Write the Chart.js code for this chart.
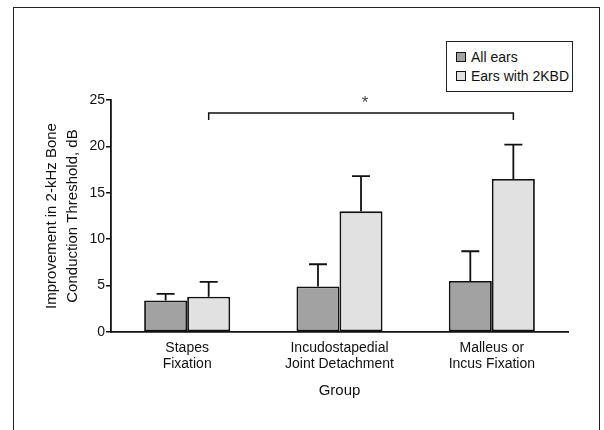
<!DOCTYPE html>
<html>
<head>
<meta charset="utf-8">
<script src="https://cdn.jsdelivr.net/npm/chart.js@4.4.0/dist/chart.umd.min.js"></script>
<style>
  body { margin: 0; background: #fff; }
  #wrap { position: relative; width: 604px; height: 430px; overflow: hidden; }
  #frame { position: absolute; left: 13px; top: 7px; width: 585px; height: 440px; border: 1.5px solid #222; }
  canvas { position: absolute; left: 0; top: 0; }
  #legend { position: absolute; left: 446px; top: 41px; width: 125px; height: 49px; border: 1.5px solid #222;
    font-family: 'Liberation Sans', Arial, sans-serif; font-size: 14px; color: #111; background: #fff; }
  .item { position: absolute; left: 9px; height: 18px; line-height: 18px; white-space: nowrap; }
  .sw { display: inline-block; width: 8px; height: 8px; border: 1.5px solid #111; margin-right: 5px; vertical-align: 0px; }
</style>
</head>
<body>
<div id="wrap">
  <div id="frame"></div>
  <canvas id="grafico" width="604" height="430"></canvas>
  <div id="legend"></div>
</div>
<script>
// -------- DADOS --------
const grupos = [["Stapes", "Fixation"], ["Incudostapedial", "Joint Detachment"], ["Malleus or", "Incus Fixation"]];
const series = ["All ears", "Ears with 2KBD"];
const todosOuvidos = [3.4, 4.9, 5.5];
const todosErro = [4.1, 7.3, 8.7];
const ouvidos2KBD = [3.8, 13.0, 16.5];
const ouvidos2KBDErro = [5.4, 16.8, 20.2];
const yTicks = [0, 5, 10, 15, 20, 25];
const sigPar = [0, 2];      // categorias ligadas pelo colchete (série 2KBD)
const sigNivel = 23.6;
const sigTexto = "*";

const cores = ["#a2a2a2", "#e1e1e1"];
const FONTE = "'Liberation Sans', Arial, sans-serif";

// -------- PLUGINS --------
const barrasErro = {
  id: "barrasErro",
  afterDatasetsDraw(chart) {
    const ctx = chart.ctx;
    const y = chart.scales.y;
    const erros = [todosErro, ouvidos2KBDErro];
    ctx.save();
    ctx.strokeStyle = "#111";
    ctx.lineWidth = 1.8;
    chart.data.datasets.forEach((ds, i) => {
      chart.getDatasetMeta(i).data.forEach((bar, j) => {
        const yt = y.getPixelForValue(erros[i][j]);
        ctx.beginPath();
        ctx.moveTo(bar.x, bar.y);
        ctx.lineTo(bar.x, yt);
        ctx.moveTo(bar.x - 9, yt);
        ctx.lineTo(bar.x + 9, yt);
        ctx.stroke();
      });
    });
    ctx.restore();
  }
};

const colchete = {
  id: "colchete",
  afterDatasetsDraw(chart) {
    const ctx = chart.ctx;
    const meta = chart.getDatasetMeta(1);
    const x1 = meta.data[sigPar[0]].x;
    const x2 = meta.data[sigPar[1]].x;
    const yb = chart.scales.y.getPixelForValue(sigNivel);
    ctx.save();
    ctx.strokeStyle = "#111";
    ctx.lineWidth = 1.5;
    ctx.beginPath();
    ctx.moveTo(x1, yb + 7);
    ctx.lineTo(x1, yb);
    ctx.lineTo(x2, yb);
    ctx.lineTo(x2, yb + 7);
    ctx.stroke();
    ctx.fillStyle = "#444";
    ctx.font = "17px " + FONTE;
    ctx.textAlign = "center";
    ctx.textBaseline = "middle";
    ctx.fillText(sigTexto, (x1 + x2) / 2 + 4, yb - 10);
    ctx.restore();
  }
};

// -------- GRAFICO --------
const ctx = document.getElementById("grafico").getContext("2d");
const chart = new Chart(ctx, {
  type: "bar",
  data: {
    labels: grupos,
    datasets: [
      { label: series[0], data: todosOuvidos, backgroundColor: cores[0], borderColor: "#111", borderWidth: 1.8, borderSkipped: false },
      { label: series[1], data: ouvidos2KBD, backgroundColor: cores[1], borderColor: "#111", borderWidth: 1.8, borderSkipped: false }
    ]
  },
  options: {
    responsive: false,
    animation: false,
    layout: { padding: { left: 41, right: 36, top: 100, bottom: 0 } },
    datasets: { bar: { categoryPercentage: 0.565, barPercentage: 1.0 } },
    plugins: { legend: { display: false }, tooltip: { enabled: false } },
    scales: {
      x: {
        grid: { display: false },
        border: { color: "#111", width: 1.8 },
        ticks: { color: "#111", font: { family: FONTE, size: 14, lineHeight: 1.15 }, padding: 0, maxRotation: 0, autoSkip: false },
        title: { display: true, text: "Group", color: "#111", font: { family: FONTE, size: 15 }, padding: { top: 6, bottom: 30 } },
        afterFit(s) { s.height = 98; }
      },
      y: {
        min: 0, max: 25,
        afterBuildTicks(s) { s.ticks = yTicks.map(v => ({ value: v })); },
        grid: { drawOnChartArea: false, tickLength: 5, color: "#111", lineWidth: 1.5 },
        border: { color: "#111", width: 1.8 },
        ticks: { color: "#111", font: { family: FONTE, size: 14 }, padding: 1 },
        title: { display: true, text: ["Improvement in 2-kHz Bone", "Conduction Threshold, dB"], color: "#111",
          font: { family: FONTE, size: 15, lineHeight: 1.4 }, padding: { top: 0, bottom: 0 } },
        afterFit(s) { s.width = 70; }
      }
    }
  },
  plugins: [barrasErro, colchete]
});

// legenda em HTML
const legenda = document.getElementById("legend");
series.forEach((nome, i) => {
  const d = document.createElement("div");
  d.className = "item";
  d.style.top = (6 + i * 19) + "px";
  d.innerHTML = `<span class="sw" style="background:${cores[i]}"></span>${nome}`;
  legenda.appendChild(d);
});
</script>
</body>
</html>
